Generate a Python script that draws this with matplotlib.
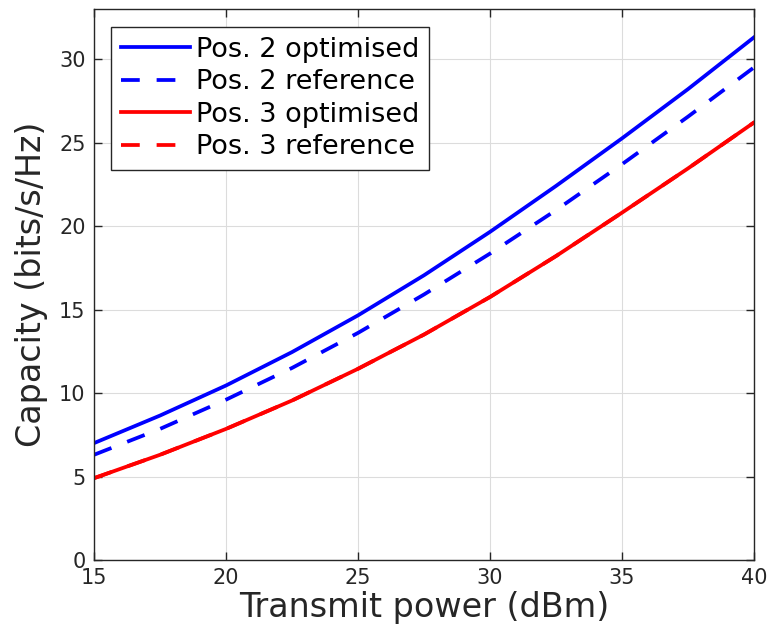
import matplotlib
matplotlib.use("Agg")
import matplotlib.pyplot as plt

# Transmit power sweep (dBm)
power_dbm = [15, 17.5, 20, 22.5, 25, 27.5, 30, 32.5, 35, 37.5, 40]

# Capacity (bits/s/Hz)
pos2_optimised = [7.0, 8.65, 10.45, 12.45, 14.65, 17.05, 19.65, 22.4, 25.25, 28.2, 31.3]
pos2_reference = [6.3, 7.85, 9.6, 11.5, 13.6, 15.9, 18.35, 20.95, 23.7, 26.55, 29.5]
pos3_optimised = [4.9, 6.3, 7.85, 9.55, 11.45, 13.5, 15.75, 18.2, 20.8, 23.45, 26.2]
pos3_reference = [4.9, 6.3, 7.85, 9.55, 11.45, 13.5, 15.75, 18.2, 20.8, 23.45, 26.2]

x_ticks = [15, 20, 25, 30, 35, 40]
y_ticks = [0, 5, 10, 15, 20, 25, 30]

plt.rcParams["font.family"] = ["DejaVu Sans"]
fig = plt.figure(figsize=(7.73, 6.40), dpi=100)
ax = fig.add_axes([0.1216, 0.125, 0.8538, 0.861])

lw = 2.7
dash = (0, (5, 4.5))
ax.plot(power_dbm, pos2_optimised, color="#0000ff", lw=lw, label="Pos. 2 optimised")
ax.plot(power_dbm, pos2_reference, color="#0000ff", lw=lw, linestyle=dash, label="Pos. 2 reference")
ax.plot(power_dbm, pos3_optimised, color="#ff0000", lw=lw, label="Pos. 3 optimised")
ax.plot(power_dbm, pos3_reference, color="#ff0000", lw=lw, linestyle=dash, label="Pos. 3 reference")

ax.set_xlim(15, 40)
ax.set_ylim(0, 33)
ax.set_xticks(x_ticks)
ax.set_yticks(y_ticks)

ax.grid(True, color="#dcdcdc", linewidth=0.8)
ax.set_axisbelow(True)

dark = "#262626"
for s in ax.spines.values():
    s.set_color(dark)
    s.set_linewidth(1.0)
ax.tick_params(direction="in", top=True, right=True, length=6, width=1.0,
               colors=dark, labelsize=15, pad=6)

ax.set_xlabel("Transmit power (dBm)", fontsize=24, color=dark, labelpad=2)
ax.set_ylabel("Capacity (bits/s/Hz)", fontsize=24, color=dark, labelpad=8)

leg = ax.legend(loc="upper left", bbox_to_anchor=(0.026, 0.967), fontsize=19.5,
                handlelength=2.55, handletextpad=0.22, labelspacing=0.24,
                borderpad=0.36, borderaxespad=0.0, fancybox=False,
                framealpha=1.0, edgecolor=dark)
leg.get_frame().set_linewidth(1.0)

fig.savefig("out.png", dpi=100)
